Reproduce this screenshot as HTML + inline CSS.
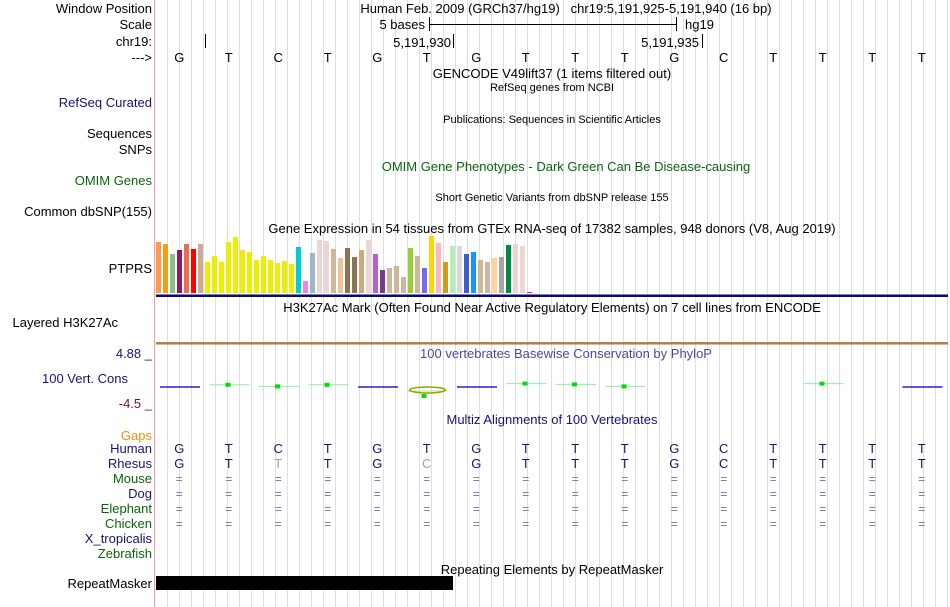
<!DOCTYPE html>
<html><head><meta charset="utf-8"><style>
body{margin:0;background:#fff;}
svg{display:block;font-family:"Liberation Sans",sans-serif;}
</style></head><body>
<svg id="v" width="950" height="607" viewBox="0 0 950 607">
<g id="grid"></g>
<line x1="154.5" y1="0" x2="154.5" y2="607" stroke="#f4a0a0"/>
<g font-size="13" text-anchor="end">
<text x="152" y="13" fill="#000">Window Position</text>
<text x="152" y="29" fill="#000">Scale</text>
<text x="152" y="46" fill="#000">chr19:</text>
<text x="152" y="62" fill="#000">---&gt;</text>
<text x="152" y="107" fill="#151570">RefSeq Curated</text>
<text x="152" y="138" fill="#000">Sequences</text>
<text x="152" y="154" fill="#000">SNPs</text>
<text x="152" y="185" fill="#0b650b">OMIM Genes</text>
<text x="152" y="216" fill="#000">Common dbSNP(155)</text>
<text x="152" y="273" fill="#000">PTPRS</text>
<text x="118" y="327" fill="#000">Layered H3K27Ac</text>
<text x="152" y="358" fill="#151570">4.88 _</text>
<text x="128" y="383" fill="#151570">100 Vert. Cons</text>
<text x="152" y="408" fill="#7a1515">-4.5 _</text>
<text x="152" y="440" fill="#f09010">Gaps</text>
<text x="152" y="453" fill="#151570">Human</text>
<text x="152" y="468" fill="#151570">Rhesus</text>
<text x="152" y="483" fill="#0b650b">Mouse</text>
<text x="152" y="498" fill="#151570">Dog</text>
<text x="152" y="513" fill="#0b650b">Elephant</text>
<text x="152" y="528" fill="#0b650b">Chicken</text>
<text x="152" y="543" fill="#151570">X_tropicalis</text>
<text x="152" y="558" fill="#0b650b">Zebrafish</text>
<text x="152" y="588" fill="#000">RepeatMasker</text>
</g>
<g font-size="13" text-anchor="middle">
<text x="566" y="13">Human Feb. 2009 (GRCh37/hg19)&#160;&#160;&#160;chr19:5,191,925-5,191,940 (16 bp)</text>
<text x="552" y="78">GENCODE V49lift37 (1 items filtered out)</text>
<text x="552" y="91" font-size="11">RefSeq genes from NCBI</text>
<text x="552" y="123" font-size="11">Publications: Sequences in Scientific Articles</text>
<text x="566" y="171" fill="#0b650b">OMIM Gene Phenotypes - Dark Green Can Be Disease-causing</text>
<text x="552" y="201" font-size="11">Short Genetic Variants from dbSNP release 155</text>
<text x="552" y="233">Gene Expression in 54 tissues from GTEx RNA-seq of 17382 samples, 948 donors (V8, Aug 2019)</text>
<text x="552" y="312">H3K27Ac Mark (Often Found Near Active Regulatory Elements) on 7 cell lines from ENCODE</text>
<text x="566" y="358" fill="#4a4a9a">100 vertebrates Basewise Conservation by PhyloP</text>
<text x="552" y="424" fill="#151570">Multiz Alignments of 100 Vertebrates</text>
<text x="552" y="574">Repeating Elements by RepeatMasker</text>
</g>
<g font-size="13">
<text x="425" y="29" text-anchor="end">5 bases</text>
<line x1="429.5" y1="17" x2="429.5" y2="31" stroke="#000"/>
<line x1="676.5" y1="17" x2="676.5" y2="31" stroke="#000"/>
<line x1="429" y1="24.5" x2="677" y2="24.5" stroke="#000"/>
<text x="685" y="29">hg19</text>
<line x1="205.5" y1="34" x2="205.5" y2="48" stroke="#000"/>
<text x="451" y="47" text-anchor="end">5,191,930</text>
<line x1="453.5" y1="34" x2="453.5" y2="48" stroke="#000"/>
<text x="699" y="47" text-anchor="end">5,191,935</text>
<line x1="702.5" y1="34" x2="702.5" y2="48" stroke="#000"/>
</g>
<g id="bases"></g>
<g id="gtex"></g>
<rect x="156" y="294.5" width="792" height="2.5" fill="#0a0a6a"/>
<rect x="156" y="342" width="792" height="1.5" fill="#d08020"/>
<line x1="156" y1="344" x2="948" y2="344" stroke="#555" stroke-width="0.7"/>
<g id="cons"></g>
<g id="multiz"></g>
<rect x="156" y="576" width="297" height="14" fill="#000"/>
</svg>
<script>
const bases = ["G","T","C","T","G","T","G","T","T","T","G","C","T","T","T","T"];
const rhesus = ["G","T","T","T","G","C","G","T","T","T","G","C","T","T","T","T"];
const rhesusDiff = [0,0,1,0,0,1,0,0,0,0,0,0,0,0,0,0];
const otherRows = ["Mouse","Dog","Elephant","Chicken"];
const gtexValues = [51,49,39,43,49,44,49,31,37,31,51,56,43,41,33,37,33,30,32,29,46,12,40,53,52,44,35,45,36,43,53,39,23,25,27,16,45,37,25,57,50,31,47,47,39,41,33,31,35,36,48,49,47,1];
const gtexColors = ["#ff9a4a","#f0a010","#8fbc8f","#8b1c62","#ee6a50","#ff0000","#cdaa90","#eeee00","#eeee00","#eeee00","#eeee00","#eeee00","#eeee00","#eeee00","#eeee00","#eeee00","#eeee00","#eeee00","#eeee00","#eeee00","#00cdcd","#ee82ee","#9ab8c8","#eed5d2","#eed5d2","#cdb79e","#eec591","#8b7355","#8b7355","#cdaa7d","#eed5d2","#b460cd","#7a378b","#cdb79e","#cdb79e","#cdb79e","#9acd32","#cdb79e","#7b68ee","#ffd700","#ffb6c1","#cd9b1d","#b4eeb4","#d9d9d9","#3a5fcd","#1e90ff","#cdb79e","#cdb79e","#ffd39b","#a6a6a6","#008b45","#eed5d2","#eed5d2","#ff00ff"];
const phylop = [-0.5,0.3,-0.1,0.3,-0.5,-1.5,-0.5,0.6,0.4,-0.1,0,0,0,0.6,0,-0.5];
const NS="http://www.w3.org/2000/svg";
function mk(tag,attrs,parent){const e=document.createElementNS(NS,tag);for(const k in attrs)e.setAttribute(k,attrs[k]);parent.appendChild(e);return e;}
const x0=156, bw=49.5;
function baseX(i){return x0+bw*i+bw/2-1.5;}
const grid=document.getElementById('grid');
for(let x=167.5;x<950;x+=12){const l=mk('line',{x1:x,y1:0,x2:x,y2:607,stroke:'#dcdcf2','stroke-width':1},grid);

}
const bg=document.getElementById('bases');
bases.forEach((b,i)=>{const t=mk('text',{x:baseX(i),y:62,'font-size':13,'text-anchor':'middle'},bg);t.textContent=b;

});
const gg=document.getElementById('gtex');
const gBase=293, gScale=1.0;
function gy(v){return gBase-v*gScale;}
gtexValues.forEach((v,i)=>{const r=mk('rect',{x:156+i*7,y:gy(v),width:5,height:gBase-gy(v),fill:gtexColors[i]},gg);

});
const cg=document.getElementById('cons');
const cMid=386, cScale=4;
function cy(v){return cMid-v*cScale;}
phylop.forEach((v,i)=>{if(v===0)return;const xs=x0+bw*i+4;const y=cy(v)+(v<=-0.4?-1:0);
const blue=v<=-0.4 && v>-1;
const col=blue?'#2020d0':'#90f090';
const l=mk('line',{x1:xs,y1:y,x2:xs+40,y2:y,stroke:col,'stroke-width':blue?1.5:1},cg);


if(!blue && v>-1){const r=mk('rect',{x:xs+16,y:y-2,width:5,height:4,fill:'#00e000'},cg);

}
if(v<=-1){const e=mk('ellipse',{cx:xs+20,cy:y-1,rx:18,ry:3,fill:'none',stroke:'#a0a000','stroke-width':1.5},cg);


const r=mk('rect',{x:xs+14,y:y+3,width:5,height:4,fill:'#00e000'},cg);

}});
const mg=document.getElementById('multiz');
bases.forEach((b,i)=>{const t=mk('text',{x:baseX(i),y:453,'font-size':13,'text-anchor':'middle',fill:'#151570'},mg);t.textContent=b;


const r=mk('text',{x:baseX(i),y:468,'font-size':13,'text-anchor':'middle',fill:rhesusDiff[i]?'#a0a0c0':'#151570'},mg);r.textContent=rhesus[i];


otherRows.forEach((s,j)=>{const e=mk('text',{x:baseX(i),y:483+15*j,'font-size':12,'text-anchor':'middle',fill:'#7070b0'},mg);e.textContent='=';

});});
</script>
</body></html>
